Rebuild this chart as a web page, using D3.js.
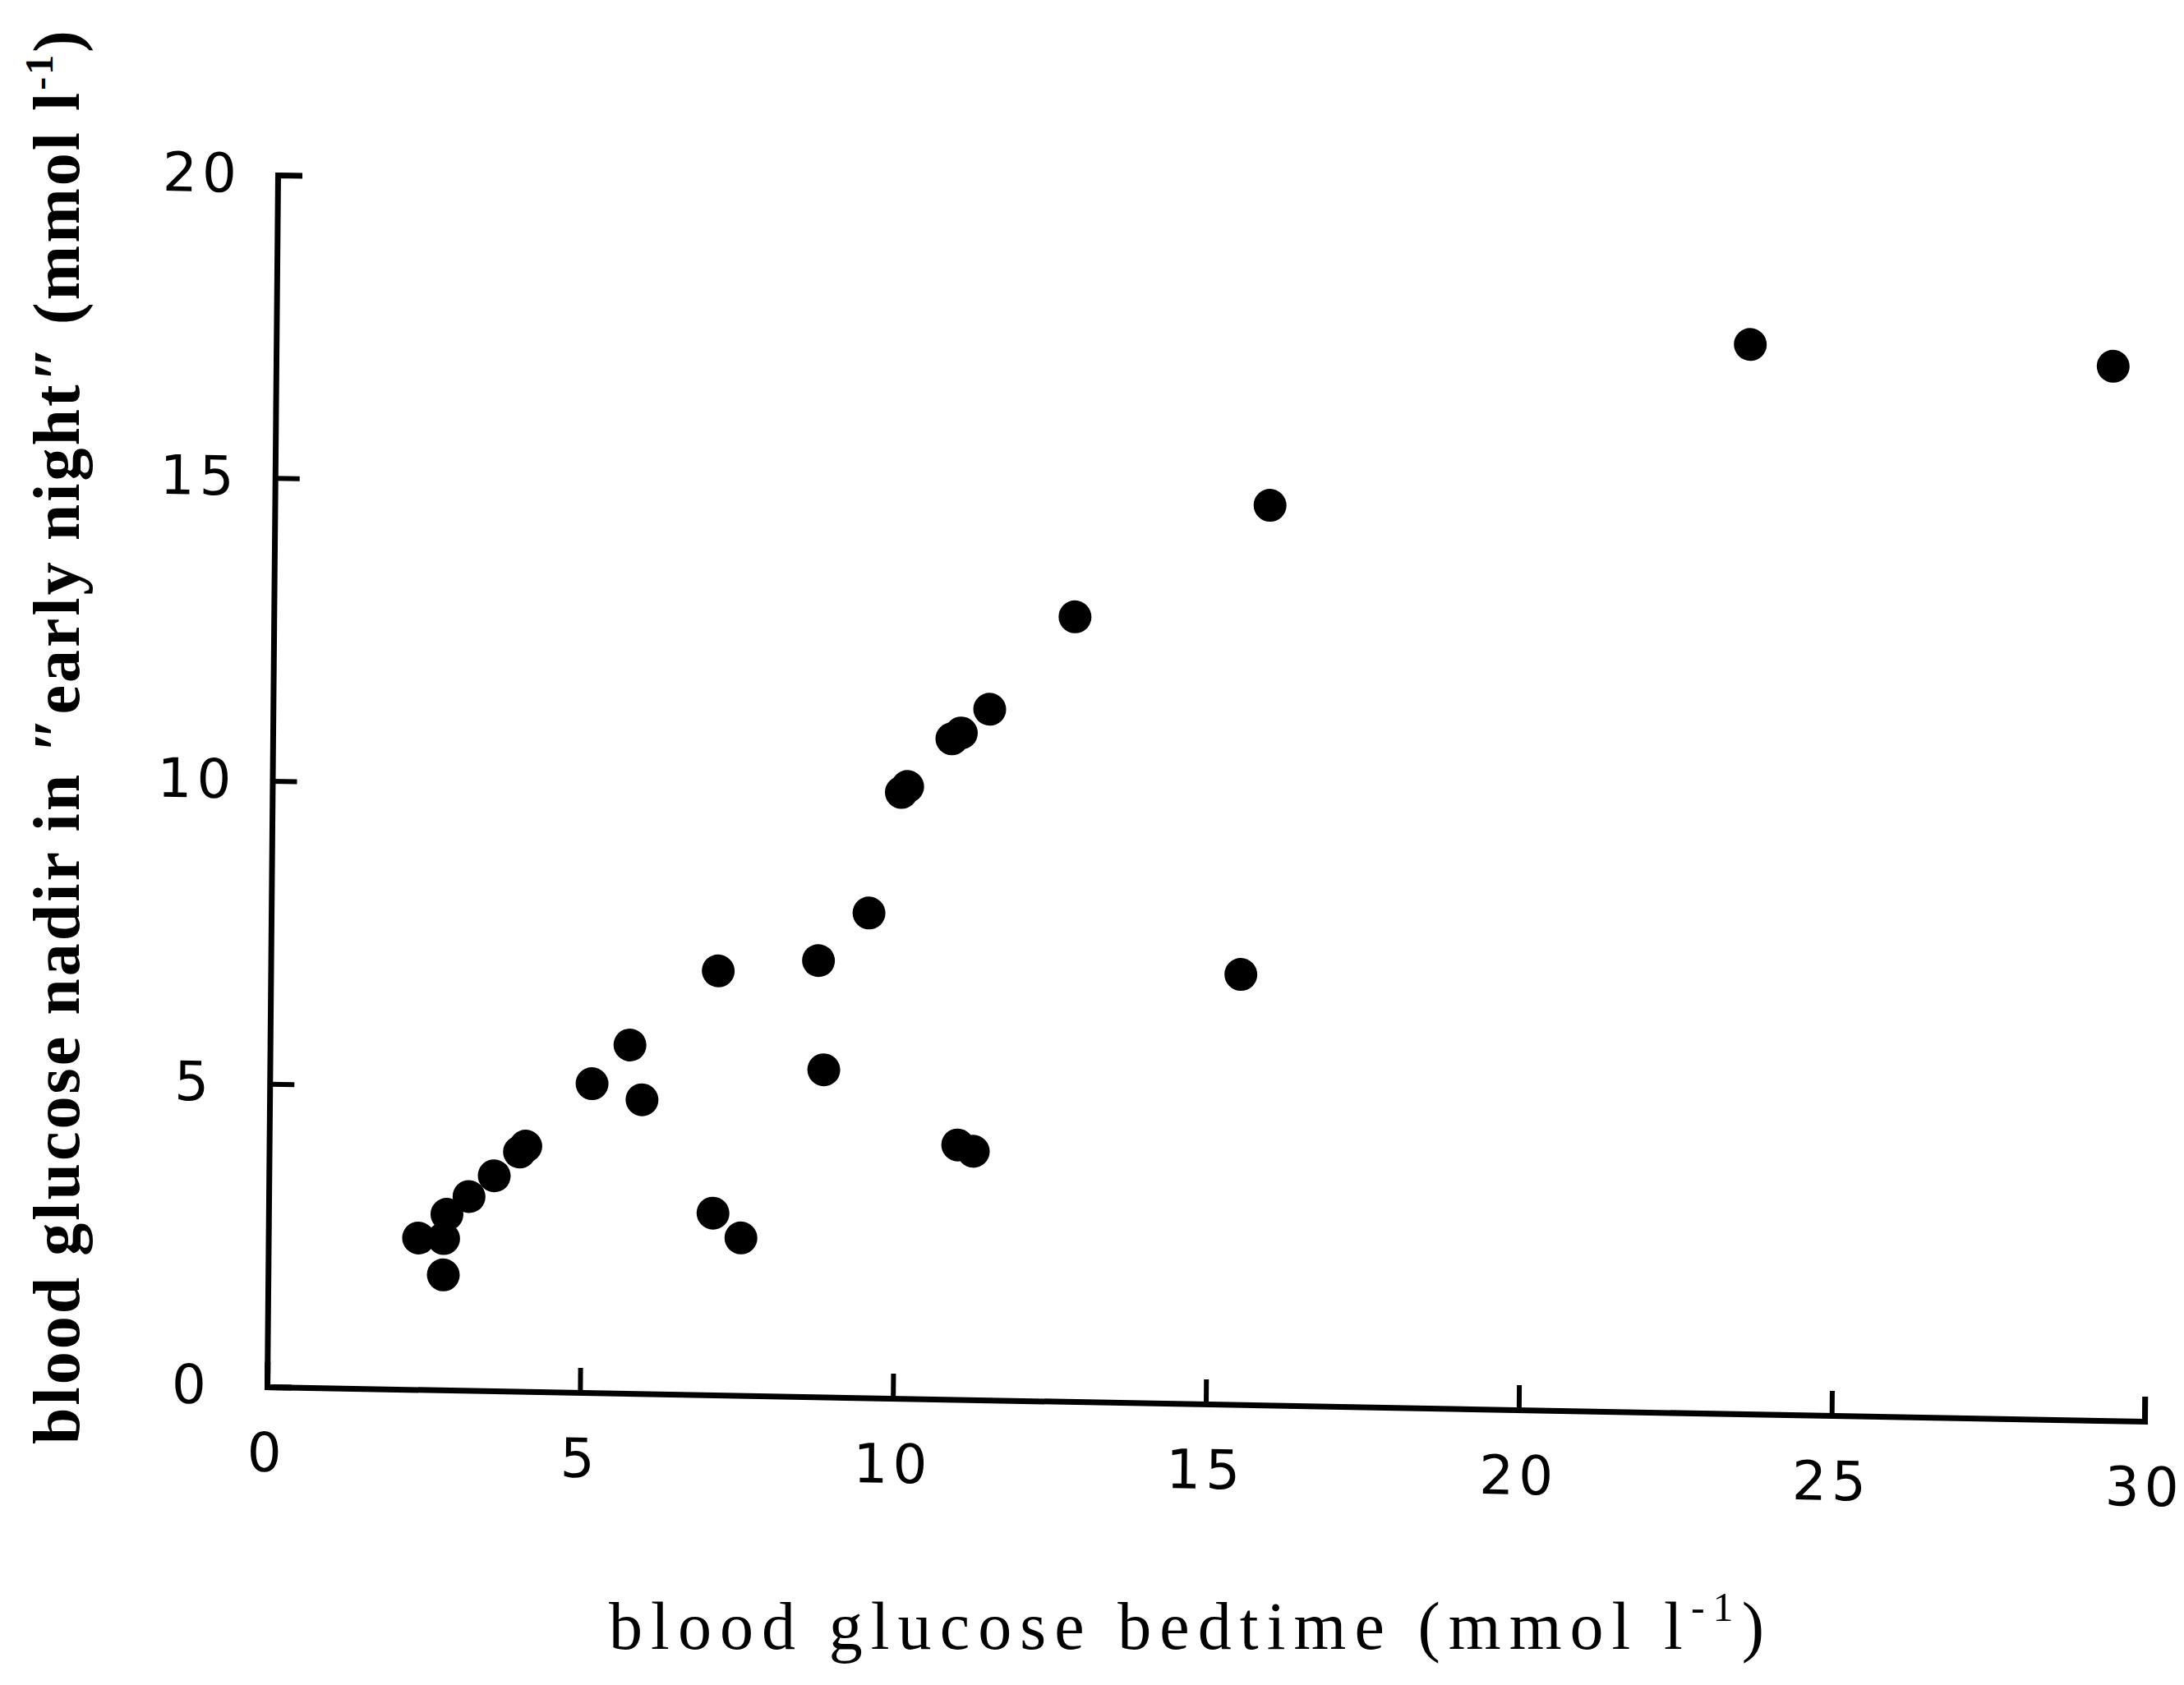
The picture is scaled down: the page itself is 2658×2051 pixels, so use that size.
<!DOCTYPE html>
<html>
<head>
<meta charset="utf-8">
<script src="https://cdn.jsdelivr.net/npm/d3@7.9.0/dist/d3.min.js"></script>
<style>
  body { margin: 0; background: #fff; }
  svg { display: block; }
</style>
</head>
<body>
<svg id="chart" width="2658" height="2051"></svg>
<script>
// values
const bedtime = [2.4, 2.8, 2.8, 2.85, 3.2, 3.6, 4.0, 4.1, 5.15, 5.75, 5.95, 7.15, 7.1, 7.55,
                 8.75, 8.85, 9.55, 10.05, 10.15, 10.85, 11.0, 11.45, 11.0, 11.25, 12.8, 15.5,
                 15.9, 23.55, 29.35];
const nadir = [2.5, 2.5, 1.9, 2.9, 3.2, 3.55, 3.95, 4.05, 5.1, 5.75, 4.85, 7.0, 3.0, 2.6,
               7.2, 5.4, 8.0, 10.0, 10.1, 10.9, 11.0, 11.4, 4.2, 4.1, 12.95, 7.1,
               14.85, 17.65, 17.4];
const xTicks = [0, 5, 10, 15, 20, 25, 30];
const yTicks = [0, 5, 10, 15, 20];

const points = bedtime.map((b, i) => ({ x: b, y: nadir[i] }));

const svg = d3.select('#chart');
svg.append('rect').attr('width', 2658).attr('height', 2051).attr('fill', '#fff');

const x = d3.scaleLinear().domain([0, 30]).range([0, 2285]);
const y = d3.scaleLinear().domain([0, 20]).range([0, -1475]);

// the scan is slightly skewed, so the plot frame is too
const plot = svg.append('g')
  .attr('transform', 'matrix(1,0.01838,-0.00881,1,325,1688)');

const xAxis = plot.append('g')
  .call(d3.axisBottom(x).tickValues(xTicks).tickFormat(d3.format('d'))
    .tickSize(-30).tickSizeOuter(-30).tickPadding(56));

const yAxis = plot.append('g')
  .call(d3.axisLeft(y).tickValues(yTicks).tickFormat(d3.format('d'))
    .tickSize(-30).tickSizeOuter(-30));

[xAxis, yAxis].forEach(a => {
  a.select('.domain').attr('stroke', '#000').attr('stroke-width', 7);
  a.selectAll('.tick line').attr('stroke', '#000').attr('stroke-width', 6);
  a.selectAll('.tick text')
    .attr('fill', '#000')
    .style('font-family', '"DejaVu Sans", sans-serif')
    .style('font-size', '66px')
    .style('letter-spacing', '6px');
});
xAxis.selectAll('.tick line').filter(d => d === 0).remove();
yAxis.selectAll('.tick line').filter(d => d === 0).remove();
yAxis.selectAll('.tick text').attr('x', -92).attr('text-anchor', 'middle');

plot.append('g')
  .selectAll('circle')
  .data(points)
  .join('circle')
  .attr('cx', d => x(d.x))
  .attr('cy', d => y(d.y))
  .attr('r', 20)
  .attr('fill', '#000');

// axis titles
const xt = svg.append('text')
  .attr('x', 741).attr('y', 2007)
  .attr('textLength', 1406).attr('lengthAdjust', 'spacing')
  .style('font-family', '"Liberation Serif", "Times New Roman", serif')
  .style('font-size', '82px')
  .attr('fill', '#000');
xt.append('tspan').text('blood glucose bedtime (mmol l');
xt.append('tspan').attr('dy', -34).style('font-size', '50px').text('-1');
xt.append('tspan').attr('dy', 34).text(')');

const yt = svg.append('text')
  .attr('transform', 'translate(96,1758) rotate(-90)')
  .attr('textLength', 1721).attr('lengthAdjust', 'spacing')
  .style('font-family', '"Liberation Serif", "Times New Roman", serif')
  .style('font-size', '80px')
  .style('font-weight', 'bold')
  .attr('fill', '#000');
yt.append('tspan').text('blood glucose nadir in \u2033early night\u2033 (mmol l');
yt.append('tspan').attr('dy', -32).style('font-size', '48px').text('-1');
yt.append('tspan').attr('dy', 32).text(')');
</script>
</body>
</html>
